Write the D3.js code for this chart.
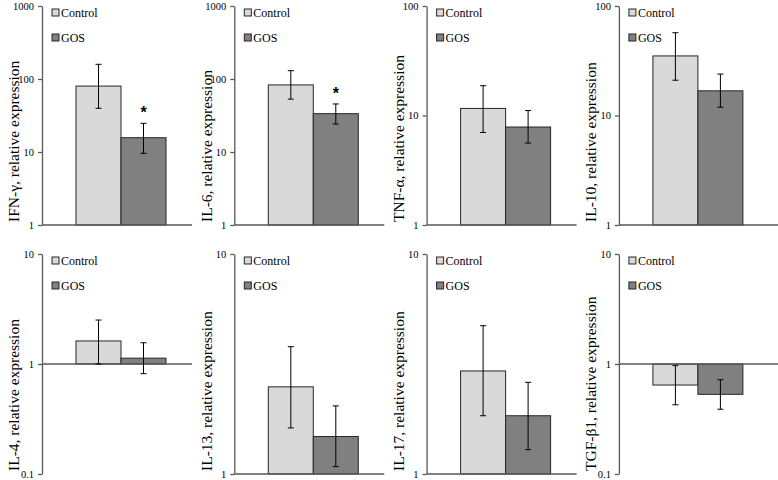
<!DOCTYPE html>
<html>
<head>
<meta charset="utf-8">
<script src="https://cdn.jsdelivr.net/npm/d3@7"></script>
<style>
  body { margin: 0; background: #fff; }
  svg text { font-family: "Liberation Serif", "Times New Roman", serif; }
  .axis path, .axis line { stroke: #595959; stroke-width: 1.3; }
  .axis text { font-size: 10.5px; fill: #000; }
</style>
</head>
<body>
<svg id="chart" width="778" height="480"></svg>
<script>
// one panel per cytokine, two bars each (Control vs GOS), log y axis
const cytokines = ['IFN-γ', 'IL-6', 'TNF-α', 'IL-10', 'IL-4', 'IL-13', 'IL-17', 'TGF-β1']
const groups = ['Control', 'GOS']

const controlMean = [80, 83, 11.6, 35, 1.62, 2.49, 2.94, 0.644]
const controlLow  = [39.7, 53, 7.0, 21, 1.0, 1.62, 1.84, 0.426]
const controlHigh = [159, 130, 18.7, 57, 2.51, 3.79, 4.72, 0.966]

const gosMean = [15.7, 33.5, 7.85, 16.8, 1.13, 1.48, 1.84, 0.53]
const gosLow  = [9.6, 24.2, 5.6, 11.9, 0.817, 1.08, 1.29, 0.388]
const gosHigh = [24.7, 45.5, 11.1, 23.9, 1.56, 2.04, 2.61, 0.72]

// significance marker over the GOS bar
const gosStar = [true, true, false, false, false, false, false, false]

const yTicks = [
    [1, 10, 100, 1000], [1, 10, 100, 1000], [1, 10, 100], [1, 10, 100],
    [0.1, 1, 10], [1, 10], [1, 10], [0.1, 1, 10]
]
const yTickLabels = [
    ['1', '10', '100', '1000'], ['1', '10', '100', '1000'], ['1', '10', '100'], ['1', '10', '100'],
    ['0.1', '1', '10'], ['1', '10'], ['1', '10'], ['0.1', '1', '10']
]

const fills = ['#d9d9d9', '#808080']

let svg = d3.select('#chart')
let svgWidth = +svg.attr('width')

let drawPanel = i => {
    let col = i % 4, row = Math.floor(i / 4)
    let axisX = 42 + col * 192.3
    let top = row ? 254 : 6,
        bottom = row ? 474 : 225
    let xLen = col === 3 ? svgWidth - axisX : 150

    let ticks = yTicks[i]
    let y = d3.scaleLog().domain([ticks[0], ticks[ticks.length - 1]]).range([bottom, top])
    let x = d3.scaleBand().domain(groups).range([axisX + 34, axisX + 124])

    let g = svg.append('g')

    let rows = [
        {group: 'Control', mean: controlMean[i], low: controlLow[i], high: controlHigh[i], star: false},
        {group: 'GOS', mean: gosMean[i], low: gosLow[i], high: gosHigh[i], star: gosStar[i]}
    ]

    // bars grow from 1
    g.selectAll('rect.bar')
        .data(rows)
        .enter()
        .append('rect')
            .attr('class', 'bar')
            .attr('x', d => x(d.group))
            .attr('width', x.bandwidth())
            .attr('y', d => Math.min(y(d.mean), y(1)))
            .attr('height', d => Math.abs(y(d.mean) - y(1)))
            .attr('fill', (d, k) => fills[k])
            .attr('stroke', '#262626')
            .attr('stroke-width', 1)

    // x axis line at 1
    g.append('line')
        .attr('x1', axisX).attr('x2', axisX + xLen)
        .attr('y1', y(1)).attr('y2', y(1))
        .attr('stroke', '#595959')
        .attr('stroke-width', 1.3)

    // error bars
    let err = g.selectAll('g.err')
        .data(rows)
        .enter()
        .append('g')
            .attr('class', 'err')
            .attr('stroke', '#000')
            .attr('stroke-width', 1)
    err.append('line')
        .attr('x1', d => x(d.group) + x.bandwidth() / 2)
        .attr('x2', d => x(d.group) + x.bandwidth() / 2)
        .attr('y1', d => y(d.low))
        .attr('y2', d => y(d.high))
    err.append('line')
        .attr('x1', d => x(d.group) + x.bandwidth() / 2 - 3)
        .attr('x2', d => x(d.group) + x.bandwidth() / 2 + 3)
        .attr('y1', d => y(d.high))
        .attr('y2', d => y(d.high))
    err.append('line')
        .attr('x1', d => x(d.group) + x.bandwidth() / 2 - 3)
        .attr('x2', d => x(d.group) + x.bandwidth() / 2 + 3)
        .attr('y1', d => y(d.low))
        .attr('y2', d => y(d.low))

    g.selectAll('text.star')
        .data(rows.filter(d => d.star))
        .enter()
        .append('text')
            .attr('class', 'star')
            .attr('x', d => x(d.group) + x.bandwidth() / 2)
            .attr('y', d => y(d.high) - 5)
            .attr('text-anchor', 'middle')
            .style('font-family', '"Liberation Sans", Arial, sans-serif')
            .style('font-weight', 'bold')
            .style('font-size', '16px')
            .text('*')

    // y axis
    g.append('g')
        .attr('class', 'axis')
        .attr('transform', 'translate(' + axisX + ',0)')
        .call(d3.axisLeft(y)
            .tickValues(ticks)
            .tickFormat((d, k) => yTickLabels[i][k])
            .tickSize(4)
            .tickSizeOuter(0)
            .tickPadding(4))

    // axis title
    g.append('text')
        .attr('transform', 'translate(' + (axisX - 28) + ',' + (bottom - 3) + ') rotate(-90)')
        .attr('dy', '0.35em')
        .attr('text-anchor', 'start')
        .style('font-size', '15.5px')
        .text(cytokines[i] + ', relative expression')

    // legend
    let legend = g.selectAll('g.legend')
        .data(groups)
        .enter()
        .append('g')
            .attr('class', 'legend')
            .attr('transform', (d, k) => 'translate(' + (axisX + 10) + ',' + (top + 3 + k * 25) + ')')
    legend.append('rect')
        .attr('width', 7).attr('height', 7)
        .attr('fill', (d, k) => fills[k])
        .attr('stroke', '#262626')
        .attr('stroke-width', 1)
    legend.append('text')
        .attr('x', 9)
        .attr('y', 3.5)
        .attr('dy', '0.35em')
        .style('font-size', '12px')
        .text(d => d)
}

for (let i = 0; i < cytokines.length; i++) drawPanel(i)
</script>
</body>
</html>
